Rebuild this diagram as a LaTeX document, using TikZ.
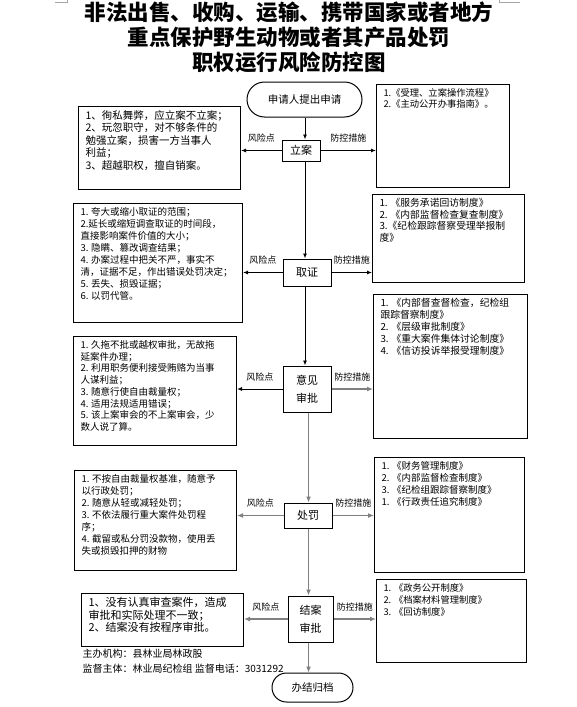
\documentclass[tikz,border=0pt]{standalone}
\usepackage{fontspec}
\usetikzlibrary{arrows.meta,shapes.misc}
\newfontfamily\cjk{Noto Sans CJK SC}
\definecolor{ink}{HTML}{000000}
\definecolor{wire}{HTML}{808080}
\definecolor{crop}{HTML}{A6A6A6}
% text of a note box: width, height (in pt), lines
\newcommand{\boxtxt}[3]{\parbox[c][\dimexpr#2pt-8pt\relax][t]{\dimexpr#1pt-14pt\relax}{\raggedright#3}}
\tikzset{
  proc/.style={draw=ink,line width=1pt,inner sep=0pt,align=center,
    font=\cjk\fontsize{11}{18}\selectfont},
  term/.style={rounded rectangle,draw=ink,line width=1pt,inner sep=0pt,
    font=\cjk\fontsize{10.5}{12}\selectfont},
  note/.style={draw=ink,line width=1pt,anchor=north west,inner xsep=7pt,inner ysep=4pt},
  flow/.style={ink,line width=0.9pt,-{Latex[length=5pt,width=4pt]}},
  flowg/.style={wire,line width=1.8pt,-{Latex[length=6pt,width=5pt]}},
  tag/.style={ink,font=\cjk\fontsize{9}{10}\selectfont,above=4pt},
}

\begin{document}
\begin{tikzpicture}[x=1pt,y=-1pt]
\useasboundingbox (0,0) rectangle (577,707);

% ---------------------------------------------------------------- title
\node[font=\cjk\bfseries\fontsize{21.5}{25}\selectfont,align=center] (title) at (289,37.5)
  {非法出售、收购、运输、携带国家或者地方\\重点保护野生动物或者其产品处罚\\职权运行风险防控图};
\draw[crop] (55,2) -- (67,2) -- (67,0);
\draw[crop] (499,0) -- (499,2) -- (520,2);

% ---------------------------------------------------------------- main steps
\node[term,minimum width=115pt,minimum height=35pt] (start) at (304.5,99.5) {申请人提出申请};
\node[proc,minimum width=38pt,minimum height=21pt] (lian) at (301,150.5) {立案};
\node[proc,minimum width=48pt,minimum height=27pt] (quzheng) at (307,272.5) {取证};
\node[proc,minimum width=48pt,minimum height=46pt] (shenpi) at (307,389) {意见\\审批};
\node[proc,minimum width=48pt,minimum height=25pt] (chufa) at (308,515.5) {处罚};
\node[proc,minimum width=45pt,minimum height=46pt] (jiean) at (310.5,619) {结案\\审批};
\node[term,minimum width=81pt,minimum height=29pt] (guidang) at (312.5,687.5) {办结归档};

\coordinate (spine) at (305,0);
\coordinate (spineb) at (308.5,0);

% ---------------------------------------------------------------- risk points (left)
\node[note,font=\cjk\fontsize{10.5}{12.5}\selectfont] (risk1) at (78,106) {\boxtxt{162}{83}{%
  1、徇私舞弊，应立案不立案；\\2、玩忽职守，对不够条件的\\勉强立案，损害一方当事人\\利益；\\3、超越职权，擅自销案。}};
\node[note,font=\cjk\fontsize{9.5}{12}\selectfont] (risk2) at (73,203) {\boxtxt{169}{119}{%
  1. 夸大或缩小取证的范围；\\2.延长或缩短调查取证的时间段，\\直接影响案件价值的大小；\\3. 隐瞒、篡改调查结果；\\%
  4. 办案过程中把关不严，事实不\\清，证据不足，作出错误处罚决定；\\5. 丢失、损毁证据；\\6. 以罚代管。}};
\node[note,font=\cjk\fontsize{9.5}{11.7}\selectfont] (risk3) at (73,336) {\boxtxt{163}{109}{%
  1. 久拖不批或越权审批，无故拖\\延案件办理；\\2. 利用职务便利接受贿赂为当事\\人谋利益；\\%
  3. 随意行使自由裁量权；\\4. 适用法规适用错误；\\5. 该上案审会的不上案审会，少\\数人说了算。}};
\node[note,font=\cjk\fontsize{9.5}{12}\selectfont] (risk4) at (74,470) {\boxtxt{162}{100}{%
  1. 不按自由裁量权基准，随意予\\以行政处罚；\\2. 随意从轻或减轻处罚；\\3. 不依法履行重大案件处罚程\\序；\\%
  4. 截留或私分罚没款物，使用丢\\失或损毁扣押的财物}};
\node[note,font=\cjk\fontsize{11}{12.5}\selectfont] (risk5) at (81,593) {\boxtxt{162}{53}{%
  1、没有认真审查案件，造成\\审批和实际处理不一致；\\2、结案没有按程序审批。}};

% ---------------------------------------------------------------- controls (right)
\node[note,font=\cjk\fontsize{9.3}{11}\selectfont] (ctrl1) at (376,84) {\boxtxt{133}{103}{%
  1.《受理、立案操作流程》\\2.《主动公开办事指南》。}};
\node[note,font=\cjk\fontsize{9.8}{11.5}\selectfont] (ctrl2) at (372,194) {\boxtxt{152}{88}{%
  1. 《服务承诺回访制度》\\2. 《内部监督检查复查制度》\\3.《纪检跟踪督察受理举报制\\度》}};
\node[note,font=\cjk\fontsize{9.8}{12}\selectfont] (ctrl3) at (373,294) {\boxtxt{154}{144}{%
  1. 《内部督查督检查，纪检组\\跟踪督察制度》\\2. 《层级审批制度》\\3. 《重大案件集体讨论制度》\\4. 《信访投诉举报受理制度》}};
\node[note,font=\cjk\fontsize{9.5}{12}\selectfont] (ctrl4) at (374,457) {\boxtxt{150}{115}{%
  1. 《财务管理制度》\\2. 《内部监督检查制度》\\3. 《纪检组跟踪督察制度》\\1. 《行政责任追究制度》}};
\node[note,font=\cjk\fontsize{9.3}{12}\selectfont] (ctrl5) at (376,579) {\boxtxt{150}{83}{%
  1. 《政务公开制度》\\2. 《档案材料管理制度》\\3. 《回访制度》}};

% ---------------------------------------------------------------- footer
\node[font=\cjk\fontsize{10}{15}\selectfont,align=left,anchor=west] (footer) at (79,661.5)
  {主办机构：县林业局林政股\\监督主体：林业局纪检组 监督电话：3031292};

% ---------------------------------------------------------------- flow
\draw[flow] (start.south -| spine) -- (lian.north -| spine);
\draw[flow] (lian.south -| spine) -- (quzheng.north -| spine);
\draw[flow] (quzheng.south -| spine) -- (shenpi.north -| spine);
\draw[flowg] (shenpi.south -| spineb) -- (chufa.north -| spineb);
\draw[flowg] (chufa.south -| spineb) -- (jiean.north -| spineb);
\draw[flowg] (jiean.south -| spineb) -- (guidang.north -| spineb);

% risk arrows
\draw[flow] (lian.west) -- node[tag] {风险点} (lian.west -| risk1.east);
\draw[flow] (quzheng.west) -- node[tag] {风险点} (quzheng.west -| risk2.east);
\draw[flow] (shenpi.west) -- node[tag] {风险点} (shenpi.west -| risk3.east);
\draw[flowg] (chufa.west) -- node[tag] {风险点} (chufa.west -| risk4.east);
\draw[flowg] (jiean.west) -- node[tag] {风险点} (jiean.west -| risk5.east);

% control arrows
\draw[flow] (lian.east) -- node[tag] {防控措施} (lian.east -| ctrl1.west);
\draw[flow] (quzheng.east) -- node[tag] {防控措施} (quzheng.east -| ctrl2.west);
\draw[flowg] (shenpi.east) -- node[tag] {防控措施} (shenpi.east -| ctrl3.west);
\draw[flowg] (chufa.east) -- node[tag] {防控措施} (chufa.east -| ctrl4.west);
\draw[flowg] (jiean.east) -- node[tag] {防控措施} (jiean.east -| ctrl5.west);

\end{tikzpicture}
\end{document}
